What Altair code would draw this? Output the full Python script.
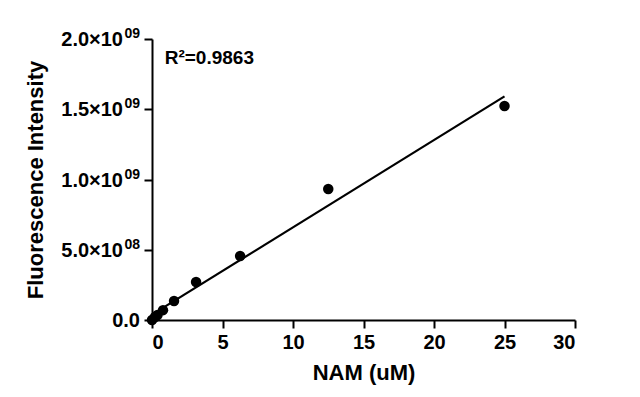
import altair as alt
import pandas as pd

nam_um = [0, 0.195, 0.39, 0.78, 1.5625, 3.125, 6.25, 12.5, 25]
fluorescence = [0.0, 0.02e9, 0.035e9, 0.07e9, 0.135e9, 0.27e9, 0.455e9, 0.932e9, 1.523e9]

x_ticks = [0, 5, 10, 15, 20, 25, 30]
y_ticks = [0, 0.5e9, 1.0e9, 1.5e9, 2.0e9]
y_label_base = ["0.0", "5.0×10", "1.0×10", "1.5×10", "2.0×10"]
y_label_sup = ["", "08", "09", "09", "09"]

r2_label = ["R²=0.9863"]
r2_pos_x = [0.9]
r2_pos_y = [1.82e9]

df = pd.DataFrame({"x": nam_um, "y": fluorescence})
ann = pd.DataFrame({"x": r2_pos_x, "y": r2_pos_y, "t": r2_label})
ylab = pd.DataFrame({"y": y_ticks, "base": y_label_base, "sup": y_label_sup})

FONT = "Liberation Sans"

xs = alt.X(
    "x:Q",
    scale=alt.Scale(domain=[0, 30], nice=False),
    axis=alt.Axis(values=x_ticks, title="NAM (uM)", grid=False, format="d"),
)
ys = alt.Y(
    "y:Q",
    scale=alt.Scale(domain=[0, 2.0e9], nice=False),
    axis=alt.Axis(
        values=y_ticks,
        title="Fluorescence Intensity",
        grid=False,
        labels=False,
        titlePadding=96,
    ),
)

base = alt.Chart(df)

points = base.mark_circle(size=110, color="black", opacity=1).encode(x=xs, y=ys)

line = base.transform_regression(
    "x", "y", method="linear", extent=[0, 25]
).mark_line(color="black", strokeWidth=2.2).encode(x=xs, y=ys)

text = alt.Chart(ann).mark_text(
    align="left", baseline="alphabetic", font=FONT, fontSize=19,
    fontWeight="bold", color="black"
).encode(x=xs, y=ys, text="t:N")

ylab_chart = alt.Chart(ylab)
lab_plain = ylab_chart.transform_filter("datum.sup == ''").mark_text(
    align="right", baseline="middle", font=FONT, fontSize=20,
    fontWeight="bold", color="black", dy=1
).encode(x=alt.value(-12), y=ys, text="base:N")
lab_base = ylab_chart.transform_filter("datum.sup != ''").mark_text(
    align="right", baseline="middle", font=FONT, fontSize=20,
    fontWeight="bold", color="black", dy=1
).encode(x=alt.value(-29), y=ys, text="base:N")
lab_sup = ylab_chart.transform_filter("datum.sup != ''").mark_text(
    align="right", baseline="middle", font=FONT, fontSize=14,
    fontWeight="bold", color="black", dy=-5
).encode(x=alt.value(-12), y=ys, text="sup:N")

chart = alt.layer(line, points, text, lab_plain, lab_base, lab_sup).properties(
    width=423,
    height=281,
    autosize=alt.AutoSizeParams(type="none"),
    padding={"left": 144, "top": 31, "right": 40, "bottom": 68},
).configure_view(stroke=None).configure_axis(
    domainColor="black",
    domainWidth=2,
    tickColor="black",
    tickWidth=2,
    tickSize=8,
    labelColor="black",
    labelFont=FONT,
    labelFontSize=20,
    labelFontWeight="bold",
    titleFont=FONT,
    titleFontSize=22,
    titleFontWeight="bold",
    titleColor="black",
    labelPadding=4,
).configure_axisX(titlePadding=10)

chart.save("out.html", embed_options={"renderer": "svg", "actions": False})
